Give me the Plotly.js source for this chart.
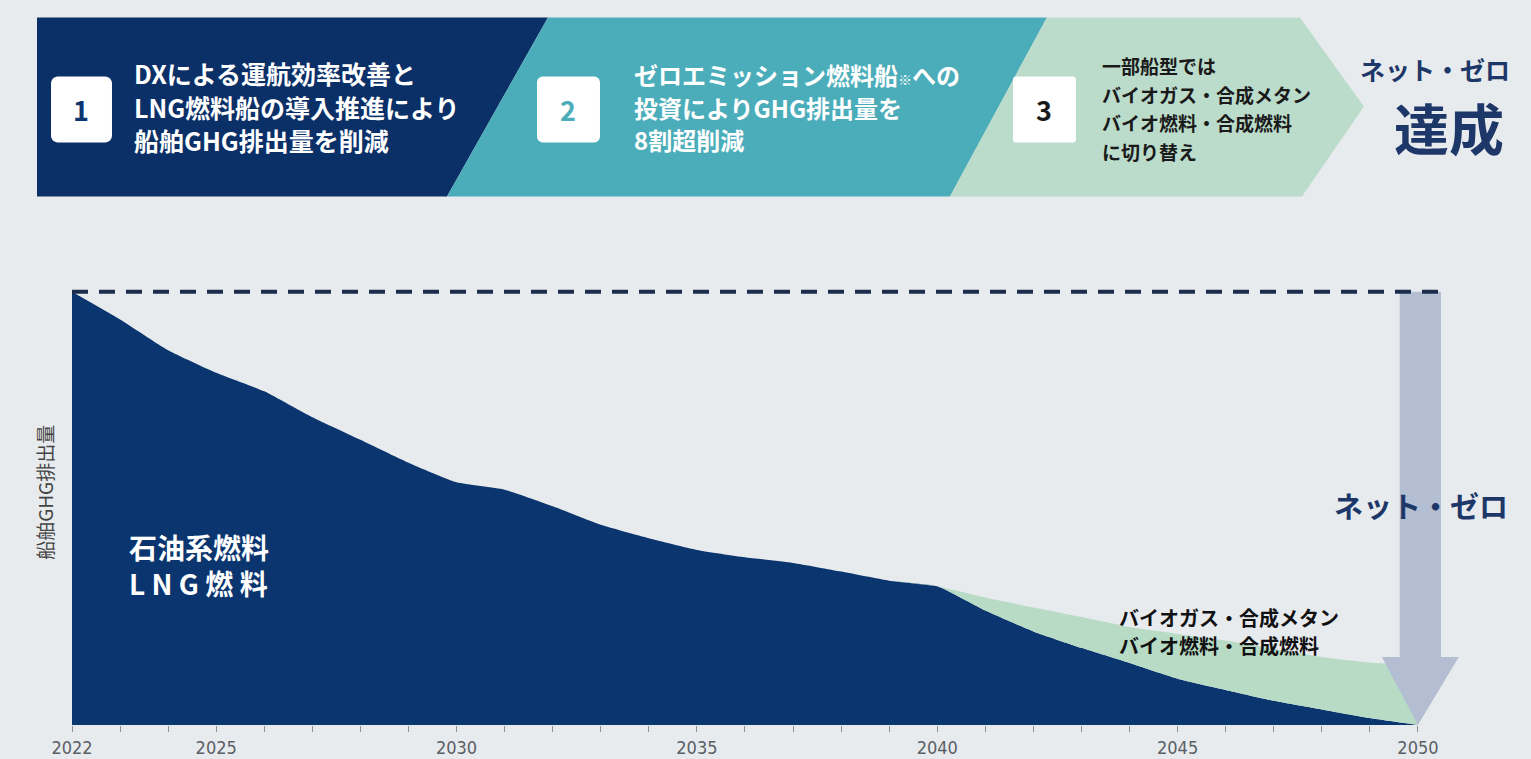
<!DOCTYPE html>
<html>
<head>
<meta charset="utf-8">
<script src="https://cdn.plot.ly/plotly-3.0.1.min.js"></script>
<style>
  html, body { margin: 0; padding: 0; background: #e8ebee; }
  #chart { width: 1531px; height: 759px; }
</style>
</head>
<body>
<div id="chart"></div>
<script>
// ---- data ----
const years = [2022,2023,2024,2025,2026,2027,2028,2029,2030,2031,2032,2033,2034,2035,2036,2037,2038,2039,2040,2041,2042,2043,2044,2045,2046,2047,2048,2049,2050];
// oil / LNG fuel emissions (index, 2022 = 100)
const fossilLng = [100,93.6,86.5,81.3,77.0,71.0,65.8,60.5,56.0,54.3,50.5,46.2,43.1,40.4,38.7,37.4,35.4,33.3,32.0,26.4,21.6,17.8,14.3,10.7,8.1,5.6,3.6,1.6,0];
// biogas / synthetic methane / biofuel / synthetic fuel (stacked on top)
const bioSynth = [0,0,0,0,0,0,0,0,0,0,0,0,0,0,0,0,0,0,0,3.0,5.5,7.1,8.3,10.3,11.4,12.0,12.1,12.8,13.8];
const tickYears = [2022,2025,2030,2035,2040,2045,2050];

const seriesNames = ['石油系燃料・LNG燃料', 'バイオガス・合成メタン・バイオ燃料・合成燃料'];
const yTitle = '船舶GHG排出量';
const stepNums = ['1', '2', '3'];
const stepLines = [
  ['DXによる運航効率改善と', 'LNG燃料船の導入推進により', '船舶GHG排出量を削減'],
  ['ゼロエミッション燃料船<span style="font-size:14px">※</span>への', '投資によりGHG排出量を', '8割超削減'],
  ['一部船型では', 'バイオガス・合成メタン', 'バイオ燃料・合成燃料', 'に切り替え']
];
const goalTop = 'ネット・ゼロ';
const goalBottom = '達成';
const labelFossil = ['石油系燃料', 'L N G 燃 料'];
const labelBio = ['バイオガス・合成メタン', 'バイオ燃料・合成燃料'];
const labelNetZero = 'ネット・ゼロ';

// ---- layout geometry (pixels of the page) ----
const W = 1531, H = 759;
const X0PX = 72, X2050PX = 1418, YBASE = 725, Y100 = 292;
const pxPerYear = (X2050PX - X0PX) / 28;
const pxPerUnit = (YBASE - Y100) / 100;
const xMax = 2051, yMax = 102;
const PL = X0PX, PR = X2050PX + pxPerYear * (xMax - 2050);
const PB = YBASE, PT = YBASE - pxPerUnit * yMax;
const px = v => (v - PL) / (PR - PL);
const py = v => (PB - v) / (PB - PT);
const JP = '"Noto Sans CJK JP", "Noto Sans", sans-serif';

const NAVY = '#0a356f', TEAL = '#4badb9', LGREEN = '#bcdccb', AREAGREEN = '#b8dbc6';
const ARROW = '#b4bed3';

const traces = [
  {
    x: years, y: fossilLng, name: seriesNames[0], type: 'scatter', mode: 'lines',
    stackgroup: 'e', line: {width: 0, color: NAVY, shape: 'spline', smoothing: 0.5}, fillcolor: NAVY
  },
  {
    x: years, y: bioSynth, name: seriesNames[1], type: 'scatter', mode: 'lines',
    stackgroup: 'e', line: {width: 0, color: AREAGREEN, shape: 'spline', smoothing: 0.5}, fillcolor: AREAGREEN
  }
];

const lastYear = years[years.length - 1];
const startVal = fossilLng[0];

function pathPx(points) {
  return 'M' + points.map(p => px(p[0]).toFixed(5) + ',' + py(p[1]).toFixed(5)).join(' L') + ' Z';
}
function roundRect(x0, y0, x1, y1, r) {
  const pts = [];
  const corners = [[x1 - r, y0 + r, -90], [x1 - r, y1 - r, 0], [x0 + r, y1 - r, 90], [x0 + r, y0 + r, 180]];
  corners.forEach(c => {
    for (let k = 0; k <= 6; k++) {
      const a = (c[2] + k * 15) * Math.PI / 180;
      pts.push([c[0] + r * Math.cos(a), c[1] + r * Math.sin(a)]);
    }
  });
  return pathPx(pts);
}

const shapes = [
  {type: 'path', xref: 'paper', yref: 'paper', path: pathPx([[37,18],[548,18],[447,197],[37,197]]), fillcolor: '#0b3068', line: {width: 0}},
  {type: 'path', xref: 'paper', yref: 'paper', path: pathPx([[548,18],[1047,18],[950,197],[447,197]]), fillcolor: TEAL, line: {width: 0}},
  {type: 'path', xref: 'paper', yref: 'paper', path: pathPx([[1047,18],[1300,18],[1364,107],[1302,197],[950,197]]), fillcolor: LGREEN, line: {width: 0}},
  {type: 'path', xref: 'paper', yref: 'paper', path: roundRect(51, 77, 112, 143, 7), fillcolor: '#ffffff', line: {width: 0}},
  {type: 'path', xref: 'paper', yref: 'paper', path: roundRect(537, 77, 600, 143, 6), fillcolor: '#ffffff', line: {width: 0}},
  {type: 'path', xref: 'paper', yref: 'paper', path: roundRect(1013, 77, 1076, 143, 3), fillcolor: '#ffffff', line: {width: 0}},
  // down arrow at 2050
  {type: 'path', xref: 'x', yref: 'y', layer: 'above', fillcolor: ARROW, line: {width: 0},
   path: (function () {
     const hw = 0.43, hh = 0.8, base = 15.7, c = lastYear + 0.05;
     const pts = [[c - hw, startVal], [c + hw, startVal], [c + hw, base], [c + hh, base],
                  [lastYear, 0], [c - hh, base], [c - hw, base]];
     return 'M' + pts.map(p => p[0] + ',' + p[1]).join(' L') + ' Z';
   })()},
  // dashed reference line at the 2022 level
  {type: 'line', xref: 'x', yref: 'y', layer: 'above', x0: years[0], x1: lastYear + 0.56, y0: startVal, y1: startVal,
   line: {color: '#1c2c4c', width: 4, dash: '16px,11px'}}
];

const annotations = [];
function addText(text, xPx, yPx, size, color, anchor) {
  annotations.push({xref: 'paper', yref: 'paper', x: px(xPx), y: py(yPx), text: text, showarrow: false,
    xanchor: anchor || 'left', yanchor: 'middle', align: 'left', font: {family: JP, size: size, color: color}});
}
const numColors = [NAVY, TEAL, '#1a1a1a'];
const numCenters = [[81,110],[568,110],[1044,110]];
stepNums.forEach((n, i) => addText('<b>' + n + '</b>', numCenters[i][0], numCenters[i][1], 27, numColors[i], 'center'));
const blockLeft = [132, 632, 1100];
const blockTop = [74, 75, 66];
const blockStep = [33, 32.5, 28.7];
const blockSize = [25, 24, 19];
const blockColor = ['#ffffff', '#ffffff', '#1a1a1a'];
stepLines.forEach((lines, i) => {
  lines.forEach((t, j) => addText('<b>' + t + '</b>', blockLeft[i], blockTop[i] + j * blockStep[i], blockSize[i], blockColor[i]));
});
addText('<b>' + goalTop + '</b>', 1435, 70, 25, '#1d3768', 'center');
addText('<b>' + goalBottom + '</b>', 1449, 126, 55, '#1d3768', 'center');
labelFossil.forEach((t, j) => addText('<b>' + t + '</b>', 127, 547 + j * 36, 28, '#ffffff'));
labelBio.forEach((t, j) => addText('<b>' + t + '</b>', 1117, 618 + j * 28, 20, '#111111'));
addText('<b>' + labelNetZero + '</b>', 1421, 505, 29, '#1d3768', 'center');
annotations.push({xref: 'paper', yref: 'paper', x: px(45), y: py(493), text: yTitle, textangle: -90,
  showarrow: false, xanchor: 'center', yanchor: 'middle', font: {family: JP, size: 19, color: '#444444'}});

const layout = {
  width: W, height: H, autosize: false,
  margin: {l: PL, r: W - PR, t: PT, b: H - PB, pad: 0},
  paper_bgcolor: '#e8ebee', plot_bgcolor: '#e8ebee',
  showlegend: false,
  xaxis: {
    range: [years[0], xMax], tickvals: years,
    ticktext: years.map(y => tickYears.includes(y) ? String(y) : ''),
    ticks: 'outside', ticklen: 6, tickcolor: '#8a9099', tickwidth: 1,
    tickfont: {family: '"Liberation Sans Narrow", "DejaVu Sans Condensed", "Open Sans", sans-serif', size: 18, color: '#5a5f66'},
    showgrid: false, zeroline: false, showline: false, fixedrange: true
  },
  yaxis: {
    range: [0, yMax], showticklabels: false, ticks: '', showgrid: false, zeroline: false,
    showline: false, fixedrange: true
  },
  shapes: shapes,
  annotations: annotations
};

Plotly.newPlot('chart', traces, layout, {displayModeBar: false, staticPlot: true});
</script>
</body>
</html>
